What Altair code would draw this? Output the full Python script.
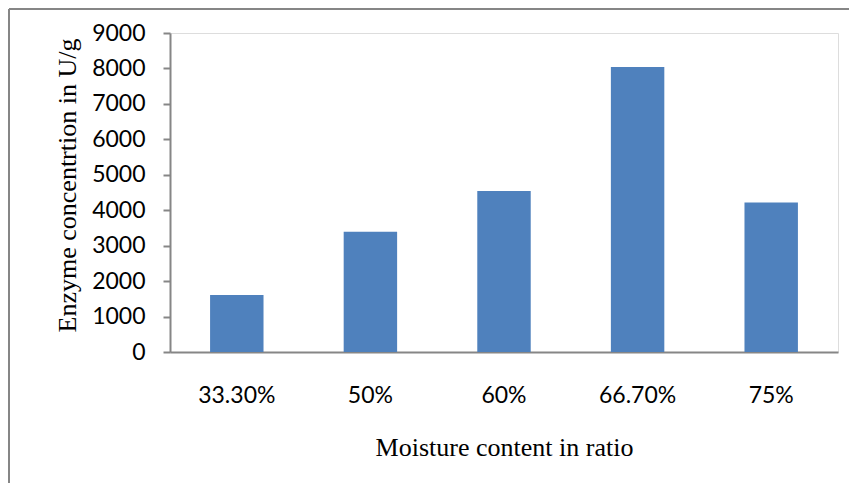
import altair as alt
import pandas as pd

categories = ["33.30%", "50%", "60%", "66.70%", "75%"]
values = [1610, 3390, 4540, 8040, 4220]
y_ticks = [0, 1000, 2000, 3000, 4000, 5000, 6000, 7000, 8000, 9000]

df = pd.DataFrame({"moisture": categories, "enzyme": values})
frame_df = pd.DataFrame({"a": [0]})

AXIS_GRAY = "#868686"

bars = alt.Chart(df).mark_bar(color="#4F81BD").encode(
    x=alt.X(
        "moisture:N",
        sort=None,
        scale=alt.Scale(paddingInner=0.6, paddingOuter=0.3),
        axis=alt.Axis(
            title="Moisture content in ratio",
            labelAngle=0,
            labelFont="Lato",
            labelFontSize=23,
            labelColor="black",
            labelBaseline="alphabetic",
            labelPadding=50,
            ticks=False,
            tickSize=0,
            domainColor=AXIS_GRAY,
            domainWidth=2,
            titleFont="Liberation Serif",
            titleFontSize=26,
            titleFontWeight="normal",
            titleColor="black",
            titleBaseline="alphabetic",
            titleY=103,
        ),
    ),
    y=alt.Y(
        "enzyme:Q",
        scale=alt.Scale(domain=[0, 9000], nice=False),
        axis=alt.Axis(
            title="Enzyme concentrtion in U/g",
            values=y_ticks,
            format="d",
            grid=False,
            labelFont="Lato",
            labelFontSize=23,
            labelColor="black",
            labelPadding=18,
            tickSize=7,
            tickColor=AXIS_GRAY,
            tickWidth=2,
            domainColor=AXIS_GRAY,
            domainWidth=2,
            titleFont="Liberation Serif",
            titleFontSize=26,
            titleFontWeight="normal",
            titleColor="black",
            titleBaseline="alphabetic",
            titleX=-95,
            titleY=152,
            titleAngle=270,
        ),
    ),
)

frame_left = alt.Chart(frame_df).mark_rule(color=AXIS_GRAY, strokeWidth=2).encode(
    x=alt.value(-161), y=alt.value(-24), y2=alt.value(460)
)
frame_top = alt.Chart(frame_df).mark_rule(color=AXIS_GRAY, strokeWidth=2).encode(
    x=alt.value(-161), x2=alt.value(690), y=alt.value(-24)
)

chart = alt.layer(bars, frame_left, frame_top).properties(
    width=668,
    height=319,
    autosize=alt.AutoSizeParams(type="none"),
    padding={"left": 162, "top": 25, "right": 11, "bottom": 131},
).configure_view(stroke=None).configure(background="white")

chart.save("out.html", embed_options={"renderer": "svg", "actions": False})
